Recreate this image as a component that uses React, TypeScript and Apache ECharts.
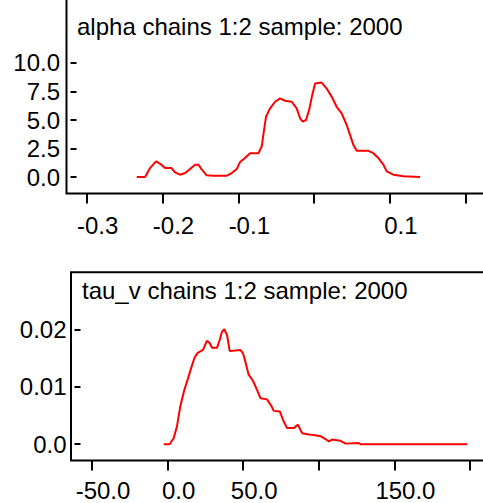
import React, { useEffect, useRef } from "react";
import * as echarts from "echarts";

// Posterior density of alpha (chains 1:2, 2000 samples)
const alphaX = [
  -0.234, -0.223, -0.2165, -0.2085, -0.203, -0.1967, -0.188, -0.1835, -0.177, -0.17,
  -0.1637, -0.157, -0.1527, -0.148, -0.1417, -0.133, -0.115, -0.1087, -0.102, -0.0977,
  -0.0911, -0.0845, -0.0735, -0.0691, -0.066, -0.0634, -0.0581, -0.0515, -0.045, -0.0383,
  -0.0296, -0.023, -0.0185, -0.015, -0.0106, -0.006, -0.003, 0.0013, 0.01, 0.0166,
  0.0233, 0.0298, 0.0364, 0.043, 0.0474, 0.0518, 0.0562, 0.0716, 0.0782, 0.0848,
  0.0914, 0.0958, 0.1046, 0.1178, 0.1398,
];
const alphaY = [
  0, 0, 0.78, 1.37, 1.16, 0.78, 0.78, 0.41, 0.2, 0.35,
  0.7, 1.08, 1.08, 0.64, 0.15, 0.12, 0.12, 0.35, 0.7, 1.31,
  1.66, 2.09, 2.09, 2.67, 4.13, 5.29, 6.02, 6.6, 6.89, 6.69,
  6.6, 6.02, 5.15, 4.85, 5.0, 6.02, 7.03, 8.2, 8.28, 7.76,
  7.03, 6.16, 5.58, 4.56, 3.69, 2.82, 2.3, 2.3, 2.09, 1.66,
  1.08, 0.49, 0.2, 0.06, 0,
];
const alphaXTicks = [-0.3, -0.2, -0.1, 0.0, 0.1, 0.2];
const alphaXLabels = [-0.3, -0.2, -0.1, 0.1];
const alphaYTicks = [0, 2.5, 5, 7.5, 10];
const alphaYLabels = ["0.0", "2.5", "5.0", "7.5", "10.0"];

// Posterior density of tau_v (chains 1:2, 2000 samples)
const tauX = [
  -2.6, 1.3, 4.0, 6.2, 8.4, 11.0, 13.2, 15.5, 17.7, 19.9,
  23.4, 26.0, 27.8, 29.4, 32.7, 34.4, 36.0, 37.5, 39.3, 41.1,
  48.1, 49.9, 51.4, 53.6, 56.5, 59.2, 61.4, 65.8, 68.7, 70.2,
  74.2, 76.4, 79.0, 83.4, 86.1, 89.0, 93.4, 96.7, 101.1, 104.4,
  106.6, 108.8, 114.3, 117.7, 126.5, 127.6, 198.2,
];
const tauY = [
  0, 0, 0.00104, 0.0031, 0.0066, 0.0094, 0.0112, 0.0132, 0.015, 0.0159,
  0.0164, 0.018, 0.0176, 0.0168, 0.0168, 0.0181, 0.0196, 0.02, 0.019, 0.0162,
  0.0164, 0.0158, 0.0144, 0.0121, 0.011, 0.0094, 0.008, 0.0078, 0.0066, 0.0058,
  0.0057, 0.0042, 0.0028, 0.0028, 0.0034, 0.0019, 0.0017, 0.0016, 0.0014, 0.0009,
  0.0005, 0.0008, 0.0006, 0.0001, 0.0002, 0, 0,
];
const tauXTicks = [-50, 0, 50, 100, 150, 200];
const tauXLabels = [-50, 0, 50, 150];
const tauYTicks = [0, 0.01, 0.02];
const tauYLabels = ["0.0", "0.01", "0.02"];

const titles = ["alpha chains 1:2 sample: 2000", "tau_v chains 1:2 sample: 2000"];

const FONT = '"Liberation Sans", Arial, sans-serif';
const INK = "#000";

function pairs(xs: number[], ys: number[]) {
  return xs.map((x, i) => [x, ys[i]]);
}

function labelFromList(ticks: number[], labels: string[]) {
  return (v: number) => {
    const i = ticks.findIndex((t) => Math.abs(t - v) < 1e-9);
    return i >= 0 ? labels[i] : "";
  };
}

function xAxisFor(gridIndex: number, min: number, max: number, ticks: number[], labels: number[], margin: number) {
  return {
    type: "value",
    gridIndex,
    min,
    max,
    axisLine: { show: false, onZero: false },
    splitLine: { show: false },
    axisTick: {
      show: true,
      customValues: ticks,
      length: 10,
      lineStyle: { color: INK, width: 2 },
    },
    axisLabel: {
      customValues: labels,
      formatter: (v: number) => v.toFixed(1),
      margin,
      verticalAlign: "middle",
      lineHeight: 18,
      padding: [0, 0, 0, 22],
      fontSize: 24,
      fontFamily: FONT,
      color: INK,
    },
  };
}

function yAxisFor(gridIndex: number, min: number, max: number, ticks: number[], labels: string[], offset: number, margin: number) {
  return {
    type: "value",
    gridIndex,
    min,
    max,
    offset,
    axisLine: { show: false, onZero: false },
    splitLine: { show: false },
    axisTick: {
      show: true,
      inside: true,
      customValues: ticks,
      length: 6,
      lineStyle: { color: INK, width: 2 },
    },
    axisLabel: {
      customValues: ticks,
      formatter: labelFromList(ticks, labels),
      margin,
      fontSize: 24,
      fontFamily: FONT,
      color: INK,
    },
  };
}

export default function App() {
  const ref = useRef<HTMLDivElement>(null);

  useEffect(() => {
    if (!ref.current) return;
    const chart = echarts.init(ref.current, null, { renderer: "svg" });
    const frame = {
      show: true,
      borderColor: INK,
      borderWidth: 2,
      backgroundColor: "transparent",
      containLabel: false,
      outerBoundsMode: "none",
    };
    chart.setOption({
      animation: false,
      backgroundColor: "#fff",
      grid: [
        { left: 66.5, top: -20, right: -20, bottom: 309.5, ...frame },
        { left: 71, top: 272.3, right: -20, bottom: 42.5, ...frame },
      ],
      xAxis: [
        xAxisFor(0, -0.32665, 0.2492, alphaXTicks, alphaXLabels, 31.5),
        xAxisFor(1, -63.89, 221.8, tauXTicks, tauXLabels, 29.5),
      ],
      yAxis: [
        yAxisFor(0, -1.447, 17.28, alphaYTicks, alphaYLabels, -4, 10.5),
        yAxisFor(1, -0.002837, 0.02992, tauYTicks, tauYLabels, -3.5, 8),
      ],
      graphic: [
        {
          type: "text",
          x: 77,
          y: 26.7,
          style: { text: titles[0], font: `24px ${FONT}`, fill: INK, verticalAlign: "middle" },
        },
        {
          type: "text",
          x: 82,
          y: 290,
          style: { text: titles[1], font: `24px ${FONT}`, fill: INK, verticalAlign: "middle" },
        },
      ],
      series: [
        {
          type: "line",
          xAxisIndex: 0,
          yAxisIndex: 0,
          data: pairs(alphaX, alphaY),
          showSymbol: false,
          lineStyle: { color: "#ff0000", width: 2 },
        },
        {
          type: "line",
          xAxisIndex: 1,
          yAxisIndex: 1,
          data: pairs(tauX, tauY),
          showSymbol: false,
          lineStyle: { color: "#ff0000", width: 2 },
        },
      ],
    });
    return () => chart.dispose();
  }, []);

  return (
    <div
      ref={ref}
      style={{ position: "absolute", left: 0, top: 0, width: 483, height: 503 }}
    />
  );
}
